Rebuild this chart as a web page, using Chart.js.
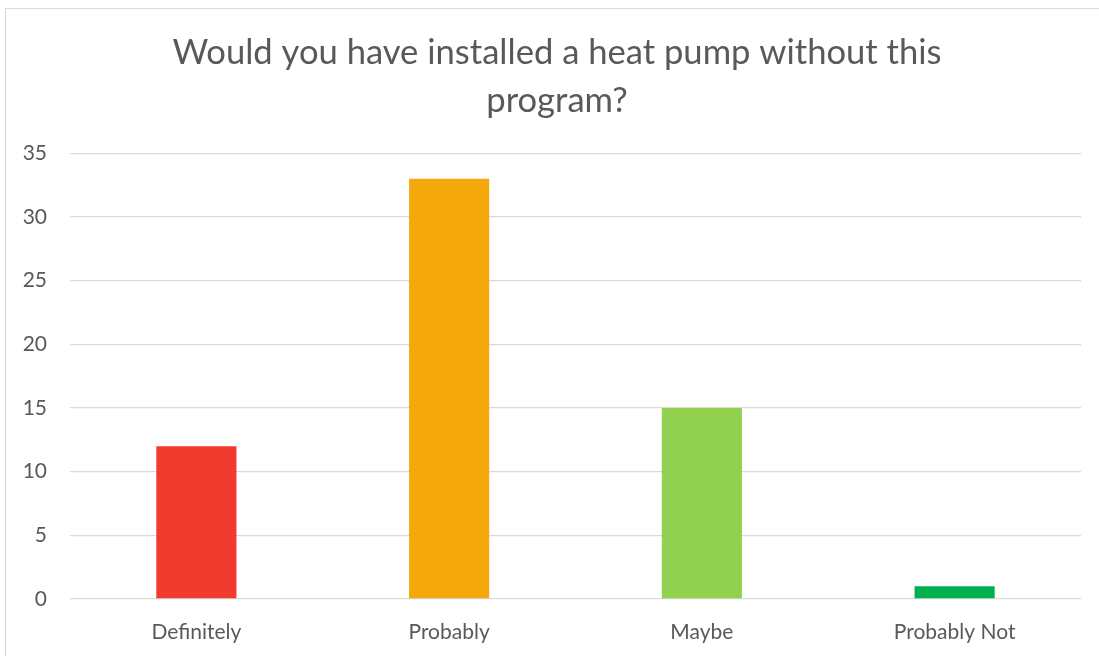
<!DOCTYPE html>
<html>
<head>
<meta charset="utf-8">
<script src="https://cdn.jsdelivr.net/npm/chart.js@4"></script>
<style>
  html, body { margin: 0; padding: 0; background: #fff; overflow: hidden; }
  #frame {
    position: absolute; left: 5px; top: 8px; width: 1100px; height: 660px;
    border: 1px solid #d9d9d9; box-sizing: border-box;
  }
  #wrap { position: absolute; left: 0; top: 0; width: 1093px; height: 648px; }
</style>
</head>
<body>
<div id="frame"><div id="wrap"><canvas id="chart"></canvas></div></div>
<script>
const categories = ['Definitely', 'Probably', 'Maybe', 'Probably Not'];
const responses = [12, 33, 15, 1];
const barColors = ['#F13B2F', '#F5A80B', '#92D050', '#00B050'];
const titleLines = ['Would you have installed a heat pump without this', 'program?'];

const font = "Lato, 'Liberation Sans', sans-serif";
Chart.defaults.font.family = font;
Chart.defaults.color = '#595959';

const ctx = document.getElementById('chart').getContext('2d');
new Chart(ctx, {
  type: 'bar',
  data: {
    labels: categories,
    datasets: [{
      data: responses,
      backgroundColor: barColors,
      borderWidth: 0,
      categoryPercentage: 1,
      barPercentage: 0.317
    }]
  },
  options: {
    responsive: true,
    maintainAspectRatio: false,
    animation: false,
    // left padding keeps the title centred like the original frame
    layout: { padding: { left: 27, right: 18, top: 0, bottom: 0 } },
    plugins: {
      legend: { display: false },
      tooltip: { enabled: false },
      title: {
        display: true,
        text: titleLines,
        color: '#595959',
        font: { size: 34.6, weight: 'normal', lineHeight: 1.39 },
        padding: { top: 20, bottom: 28 }
      }
    },
    scales: {
      x: {
        grid: { display: false, drawTicks: false },
        border: { display: false },
        ticks: { font: { size: 21 }, padding: 21, color: '#595959' },
        afterFit: s => { s.height = 58; }
      },
      y: {
        min: 0,
        max: 35,
        ticks: { stepSize: 5, font: { size: 21 }, padding: 23, color: '#595959' },
        grid: { color: '#d9d9d9', lineWidth: 1.3, drawTicks: false },
        border: { display: false },
        afterFit: s => {
          s.width = 37;
          // let the tick labels spill into the padding instead of being clipped
          s._computeLabelArea = () => undefined;
        }
      }
    }
  }
});
</script>
</body>
</html>
